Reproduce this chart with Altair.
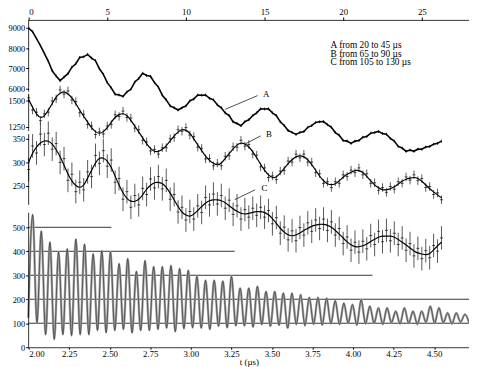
import altair as alt
import pandas as pd

FONT = "Liberation Serif"

# ---------------- data ----------------
T_STEP = 0.25  # microseconds between points of A, B, C

A_VALS = [8980, 8810, 8470, 8120, 7740, 7350, 6880, 6620, 6400, 6570,
          6740, 7060, 7230, 7540, 7570, 7690, 7510, 7380, 6980, 6710,
          6300, 6040, 5730, 5690, 5620, 5840, 5970, 6330, 6500, 6760,
          6650, 6610, 6300, 6080, 5680, 5450, 5150, 5060, 4950, 5060,
          5150, 5400, 5490, 5690, 5680, 5690, 5530, 5450, 5200, 5060,
          4810, 4680, 4370, 4290, 4180, 4380, 4470, 4680, 4810, 5010,
          5000, 5010, 4810, 4680, 4370, 4190, 3940, 3850, 3750, 3850,
          3890, 4100, 4180, 4340, 4370, 4380, 4230, 4100, 3840, 3710,
          3450, 3420, 3310, 3420, 3450, 3610, 3650, 3810, 3840, 3900,
          3790, 3760, 3550, 3420, 3160, 3080, 2920, 2980, 2920, 3030,
          3020, 3130, 3160, 3270, 3310, 3420]

B_VALS = [1525, 1410, 1390, 1310, 1375, 1390, 1495, 1515, 1600, 1560,
          1590, 1505, 1490, 1385, 1370, 1275, 1260, 1180, 1205, 1185,
          1260, 1275, 1365, 1350, 1400, 1340, 1335, 1240, 1225, 1125,
          1110, 1025, 1040, 995, 1055, 1055, 1140, 1150, 1225, 1210,
          1245, 1175, 1160, 1060, 1050, 950, 955, 885, 910, 885,
          975, 980, 1065, 1060, 1125, 1070, 1085, 995, 985, 875,
          865, 775, 790, 755, 835, 840, 930, 920, 995, 960,
          995, 920, 920, 820, 810, 720, 735, 680, 735, 720,
          800, 785, 845, 820, 865, 800, 810, 720, 725, 655,
          680, 635, 690, 665, 735, 720, 780, 750, 800, 745,
          765, 680, 690, 615, 630, 565]

B_FIT = [1509, 1435, 1370, 1333, 1352, 1407, 1472, 1537, 1574, 1583,
         1565, 1528, 1472, 1407, 1352, 1296, 1241, 1204, 1185, 1204,
         1241, 1296, 1343, 1370, 1380, 1361, 1315, 1259, 1204, 1148,
         1093, 1046, 1018, 1018, 1037, 1074, 1120, 1167, 1204, 1231,
         1222, 1194, 1139, 1083, 1028, 972, 935, 907, 889, 907,
         954, 1000, 1046, 1083, 1102, 1093, 1065, 1018, 963, 898,
         843, 796, 769, 778, 815, 861, 907, 944, 972, 981,
         972, 944, 898, 843, 787, 741, 713, 704, 713, 741,
         778, 806, 824, 843, 843, 824, 787, 741, 704, 676,
         657, 657, 667, 685, 713, 741, 759, 769, 778, 769,
         741, 704, 667, 639, 611, 583]

C_VALS = [285, 335, 320, 360, 338, 362, 328, 340, 300, 308,
          262, 275, 238, 258, 242, 280, 270, 315, 298, 325,
          292, 305, 258, 266, 222, 238, 205, 230, 210, 245,
          232, 265, 246, 270, 244, 262, 222, 232, 195, 205,
          178, 196, 180, 208, 194, 226, 210, 233, 212, 230,
          203, 220, 190, 208, 180, 200, 184, 203, 188, 205,
          184, 198, 170, 183, 150, 163, 136, 155, 134, 162,
          146, 172, 154, 178, 160, 180, 156, 174, 146, 160,
          128, 142, 114, 131, 110, 133, 117, 145, 126, 154,
          132, 156, 134, 150, 126, 140, 114, 128, 102, 118,
          96, 113, 98, 124, 112, 140]

C_FIT = [300, 321, 333, 342, 346, 346, 340, 327, 313, 294,
         275, 260, 250, 246, 250, 267, 283, 300, 310, 310,
         304, 290, 271, 252, 235, 223, 217, 217, 221, 231,
         244, 252, 258, 258, 256, 248, 235, 221, 206, 194,
         188, 185, 190, 198, 206, 215, 219, 221, 221, 219,
         215, 208, 202, 196, 192, 190, 192, 194, 196, 196,
         194, 190, 181, 171, 160, 152, 146, 144, 146, 150,
         156, 160, 165, 167, 169, 169, 167, 163, 156, 148,
         140, 131, 125, 121, 121, 123, 127, 133, 137, 142,
         144, 144, 144, 142, 137, 131, 125, 119, 112, 108,
         106, 104, 106, 115, 123, 131]

A_ERR, B_ERR, C_ERR = 70, 40, 25

# lower trace (bottom time axis): alternating troughs / peaks
D_T0, D_HALF = 1.998, 0.02665
D_PEAKS = [553, 484, 438, 397, 410, 451, 430, 389, 402, 397,
           348, 369, 316, 361, 336, 336, 340, 328, 320, 295,
           279, 279, 275, 295, 246, 246, 253, 232, 232, 225,
           225, 219, 208, 208, 205, 194, 184, 178, 198, 171,
           164, 164, 150, 164, 150, 150, 171, 164, 143, 143, 137]
D_TROUGHS = [123, 102, 53, 33, 53, 49, 53, 53, 70, 61,
             70, 75, 60, 70, 70, 75, 80, 65, 78, 82,
             80, 75, 88, 82, 90, 90, 85, 95, 88, 92,
             80, 95, 90, 96, 92, 98, 95, 100, 92, 98,
             100, 95, 102, 98, 100, 96, 104, 100, 102, 98,
             105, 100]
D_LEVELS = [500, 400, 300, 200, 100]
D_LEVEL_END = [2.51, 3.27, 4.12, 4.73, 4.73]

TOP_TICKS = [0, 5, 10, 15, 20, 25]
BOT_TICKS = [2.00, 2.25, 2.50, 2.75, 3.00, 3.25, 3.50, 3.75, 4.00, 4.25, 4.50]
A_TICKS = [6000, 7000, 8000, 9000]
B_TICKS = [1250, 1500]
C_TICKS = [250, 300, 350]
D_TICKS = [0, 100, 200, 300, 400, 500]

LEGEND = ["A from 20 to 45 \u00b5s", "B from 65 to 90 \u00b5s", "C from 105 to 130 \u00b5s"]
LEGEND_T = [19.2, 19.2, 19.2]
LEGEND_Y = [8130, 7710, 7290]

# ---------------- scales ----------------
W, H = 448, 333
XT = alt.Scale(domain=[0, 28.0], range=[0, W], nice=False, zero=False)
XB = alt.Scale(domain=[2.0, 4.715], range=[0, W], nice=False, zero=False)
YA = alt.Scale(domain=[6000, 9000], range=[70, 8], nice=False, zero=False)
YB = alt.Scale(domain=[1250, 1500], range=[109, 82], nice=False, zero=False)
YC = alt.Scale(domain=[250, 350], range=[169, 121], nice=False, zero=False)
YD = alt.Scale(domain=[0, 500], range=[333, 211], nice=False, zero=False)


def left_axis(vals):
    return alt.Axis(orient="left", values=vals, domain=False, grid=False, title=None,
                    format="d", labelFont=FONT, labelFontSize=8.5, labelColor="black",
                    tickSize=3, tickColor="black", labelPadding=1)


def series_df(vals, err, fit=None):
    df = pd.DataFrame({"t": [i * T_STEP for i in range(len(vals))], "v": vals})
    df["lo"] = df["v"] - err
    df["hi"] = df["v"] + err
    if fit is not None:
        df["fit"] = fit
    return df


dfA = series_df(A_VALS, A_ERR)
dfB = series_df(B_VALS, B_ERR, B_FIT)
dfC = series_df(C_VALS, C_ERR, C_FIT)

xt_none = alt.X("t:Q", scale=XT, axis=None)
top_axis = alt.Axis(orient="top", values=TOP_TICKS, grid=False, title=None, format="d",
                    labelFont=FONT, labelFontSize=9, labelColor="black", tickSize=3,
                    tickColor="black", domainColor="black", domainWidth=0.8, labelPadding=0)

layers = []

# A
layers.append(alt.Chart(dfA).mark_rule(color="black", strokeWidth=0.8).encode(
    x=xt_none, y=alt.Y("lo:Q", scale=YA, axis=None), y2="hi:Q"))
layers.append(alt.Chart(dfA).mark_line(color="black", strokeWidth=1.6).encode(
    x=alt.X("t:Q", scale=XT, axis=top_axis), y=alt.Y("v:Q", scale=YA, axis=left_axis(A_TICKS))))

# B
layers.append(alt.Chart(dfB).mark_rule(color="#333", strokeWidth=0.8).encode(
    x=xt_none, y=alt.Y("lo:Q", scale=YB, axis=None), y2="hi:Q"))
layers.append(alt.Chart(dfB).mark_tick(color="black", thickness=1, size=3, orient="horizontal").encode(
    x=xt_none, y=alt.Y("v:Q", scale=YB, axis=left_axis(B_TICKS))))
layers.append(alt.Chart(dfB).mark_line(color="black", strokeWidth=1.2, interpolate="basis").encode(
    x=xt_none, y=alt.Y("fit:Q", scale=YB, axis=None)))

# C
layers.append(alt.Chart(dfC).mark_rule(color="#444", strokeWidth=0.9).encode(
    x=xt_none, y=alt.Y("lo:Q", scale=YC, axis=None), y2="hi:Q"))
layers.append(alt.Chart(dfC).mark_tick(color="black", thickness=1, size=3, orient="horizontal").encode(
    x=xt_none, y=alt.Y("v:Q", scale=YC, axis=left_axis(C_TICKS))))
layers.append(alt.Chart(dfC).mark_line(color="black", strokeWidth=1.2, interpolate="basis").encode(
    x=xt_none, y=alt.Y("fit:Q", scale=YC, axis=None)))

# D
d_vals = []
for k in range(len(D_TROUGHS) + len(D_PEAKS)):
    d_vals.append(D_TROUGHS[k // 2] if k % 2 == 0 else D_PEAKS[k // 2])
dfD = pd.DataFrame({"t": [D_T0 + k * D_HALF for k in range(len(d_vals))], "v": d_vals})
dfL = pd.DataFrame({"t0": [2.0] * len(D_LEVELS), "t1": D_LEVEL_END, "v": D_LEVELS})
xb_none = alt.X("t:Q", scale=XB, axis=None)
bot_axis = alt.Axis(orient="bottom", values=BOT_TICKS, grid=False, title="t (\u00b5s)", format=".2f",
                    labelFont=FONT, labelFontSize=9, labelColor="black", tickSize=2,
                    tickColor="black", domainColor="black", domainWidth=0.8, labelPadding=0,
                    titleFont=FONT, titleFontSize=9, titleFontWeight="normal", titleColor="black",
                    titlePadding=0)

layers.append(alt.Chart(dfL).mark_rule(color="black", strokeWidth=0.8).encode(
    x=alt.X("t0:Q", scale=XB, axis=None), x2="t1:Q", y=alt.Y("v:Q", scale=YD, axis=None)))
layers.append(alt.Chart(dfD).mark_line(color="#a3a3a3", strokeWidth=2.4, interpolate="monotone").encode(
    x=xb_none, y=alt.Y("v:Q", scale=YD, axis=None)))
layers.append(alt.Chart(dfD).mark_line(color="#222", strokeWidth=0.6, interpolate="monotone").encode(
    x=alt.X("t:Q", scale=XB, axis=bot_axis), y=alt.Y("v:Q", scale=YD, axis=left_axis(D_TICKS))))

# broken left axis segments
for lo, hi, ysc in [(5855, 9387, YA), (1213, 1556, YB), (210, 360, YC), (0, 561, YD)]:
    seg = pd.DataFrame({"a": [lo], "b": [hi]})
    layers.append(alt.Chart(seg).mark_rule(color="black", strokeWidth=0.8).encode(
        x=alt.value(0), y=alt.Y("a:Q", scale=ysc, axis=None), y2="b:Q"))

# legend text
dfLeg = pd.DataFrame({"t": LEGEND_T, "v": LEGEND_Y, "txt": LEGEND})
layers.append(alt.Chart(dfLeg).mark_text(align="left", baseline="middle", font=FONT, fontSize=9.5,
                                         color="black").encode(
    x=xt_none, y=alt.Y("v:Q", scale=YA, axis=None), text="txt:N"))

# series labels with leader lines
for name, ysc, lt, lv, x0, x1, y0, y1 in [
        ("A", YA, 14.9, 5758, 12.5, 14.56, 4984, 5662),
        ("B", YB, 15.1, 1185, 13.8, 14.75, 1093, 1167),
        ("C", YC, 14.8, 246, 13.1, 14.4, 221, 242)]:
    lab = pd.DataFrame({"t": [lt], "v": [lv], "txt": [name]})
    ln = pd.DataFrame({"t0": [x0], "t1": [x1], "v0": [y0], "v1": [y1]})
    layers.append(alt.Chart(ln).mark_rule(color="black", strokeWidth=0.7).encode(
        x=alt.X("t0:Q", scale=XT, axis=None), x2="t1:Q",
        y=alt.Y("v0:Q", scale=ysc, axis=None), y2="v1:Q"))
    layers.append(alt.Chart(lab).mark_text(align="left", baseline="middle", font=FONT, fontSize=9,
                                           color="black").encode(
        x=xt_none, y=alt.Y("v:Q", scale=ysc, axis=None), text="txt:N"))

chart = alt.layer(*layers).resolve_scale(x="independent", y="independent").properties(
    width=W, height=H,
    padding={"left": 21, "top": 9, "right": 0, "bottom": 17},
    autosize=alt.AutoSizeParams(type="none"),
    background="white",
).configure_view(stroke=None)

chart.save("out.html", embed_options={"renderer": "svg", "actions": False})
